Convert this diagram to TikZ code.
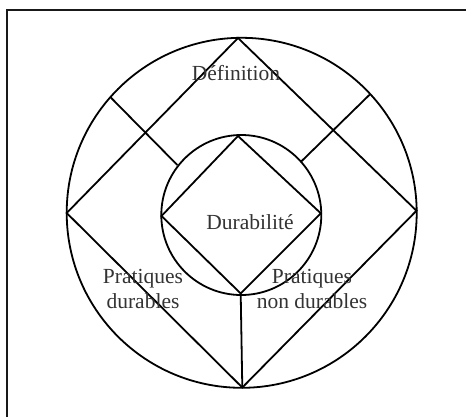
\documentclass[tikz,border=0pt]{standalone}
\usepackage{fontspec}
\setmainfont{Liberation Serif}
\begin{document}
\begin{tikzpicture}[x=1pt,y=-1pt,line width=1.8pt,
  lbl/.style={font=\fontsize{21.5}{25.5}\selectfont,align=center,text=black!80,inner sep=0pt}]
\useasboundingbox (0,0) rectangle (466,416);
\begin{scope}
  \clip (0,0) rectangle (466,416);
  \draw[line width=2.3pt,black!90] (7.2,10.2) rectangle (490,440);
\end{scope}
% circles
\coordinate (oc) at (241.7,212.8);
\coordinate (ic) at (241.3,215);
\draw (oc) circle[radius=175pt];
\draw (ic) circle[radius=80pt];
% outer diamond
\coordinate (ot) at (238,38);
\coordinate (ol) at (66.7,213);
\coordinate (or) at (416.5,210.7);
\coordinate (ob) at (242.3,387.5);
\draw[line join=miter] (ot) -- (or) -- (ob) -- (ol) -- cycle;
% inner diamond
\coordinate (it) at (238,136);
\coordinate (il) at (161.5,216);
\coordinate (ir) at (320.8,213.3);
\coordinate (ib) at (240.7,293.5);
\draw[line join=miter] (it) -- (ir) -- (ib) -- (il) -- cycle;
% connectors
\draw (ib) -- (ob);
\coordinate (ula) at (110,96.7);
\coordinate (ulb) at (177.3,165);
\coordinate (ura) at (370,94.3);
\coordinate (urb) at (301,161.7);
\draw (ula) -- (ulb);
\draw (ura) -- (urb);
% labels
\node[lbl] (def) at (236,73) {Définition};
\node[lbl] (dur) at (250,222) {Durabilité};
\node[lbl] (pd) at (143,289) {Pratiques\\durables};
\node[lbl] (pnd) at (312,289) {Pratiques\\non durables};
\end{tikzpicture}
\end{document}
